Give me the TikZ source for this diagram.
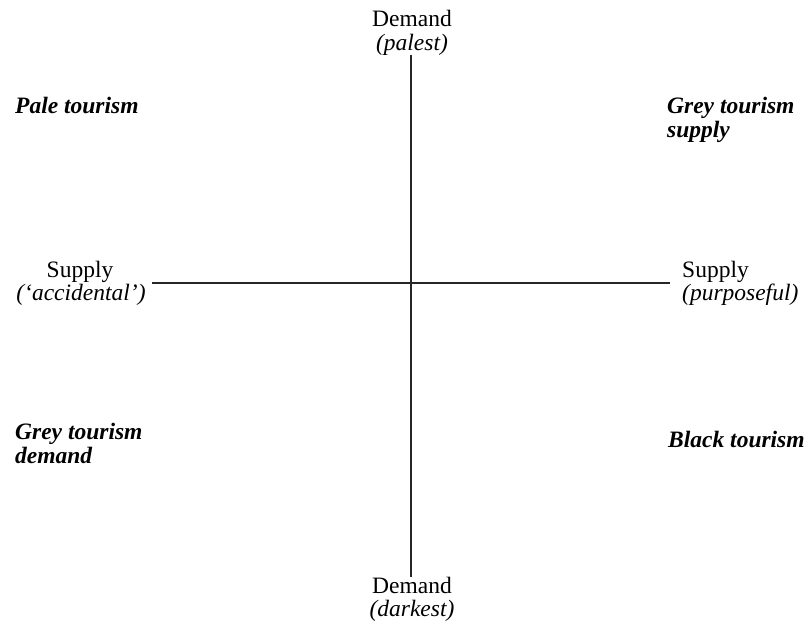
\documentclass[tikz,border=0pt]{standalone}
\usepackage{fontspec}
\setmainfont{Liberation Serif}
\begin{document}
\begin{tikzpicture}[x=1pt,y=-1pt,
  lbl/.style={inner sep=0pt, font=\fontsize{23.5}{24}\selectfont},
  quad/.style={inner sep=0pt, font=\fontsize{23.5}{24}\selectfont\bfseries\itshape, align=left},
  axis/.style={line width=1.6pt, black!85}]
\useasboundingbox (0,0) rectangle (809,621);
\coordinate (vtop) at (411,55);
\coordinate (vbot) at (411,577);
\coordinate (hl) at (152,283);
\coordinate (hr) at (670,283);
\draw[axis] (vtop) -- (vbot);
\draw[axis] (hl) -- (hr);
\node[lbl, anchor=base] (dtop) at (412,26) {Demand};
\node[lbl, anchor=base] (dtopi) at (412,50) {\itshape(palest)};
\node[lbl, anchor=base] (dbot) at (412,593) {Demand};
\node[lbl, anchor=base] (dboti) at (412,616) {\itshape(darkest)};
\node[lbl, anchor=base] (sl) at (80,277) {Supply};
\node[lbl, anchor=base] (sli) at (81,300) {\itshape(‘accidental’)};
\node[lbl, anchor=base west] (sr) at (682,277) {Supply};
\node[lbl, anchor=base west] (sri) at (682,300) {\itshape(purposeful)};
\node[quad, anchor=base west] (pale) at (15,113) {Pale tourism};
\node[quad, anchor=base west] (greys) at (667,137) {Grey tourism\\supply};
\node[quad, anchor=base west] (greyd) at (15,463) {Grey tourism\\demand};
\node[quad, anchor=base west] (black) at (668,447) {Black tourism};
\end{tikzpicture}
\end{document}
